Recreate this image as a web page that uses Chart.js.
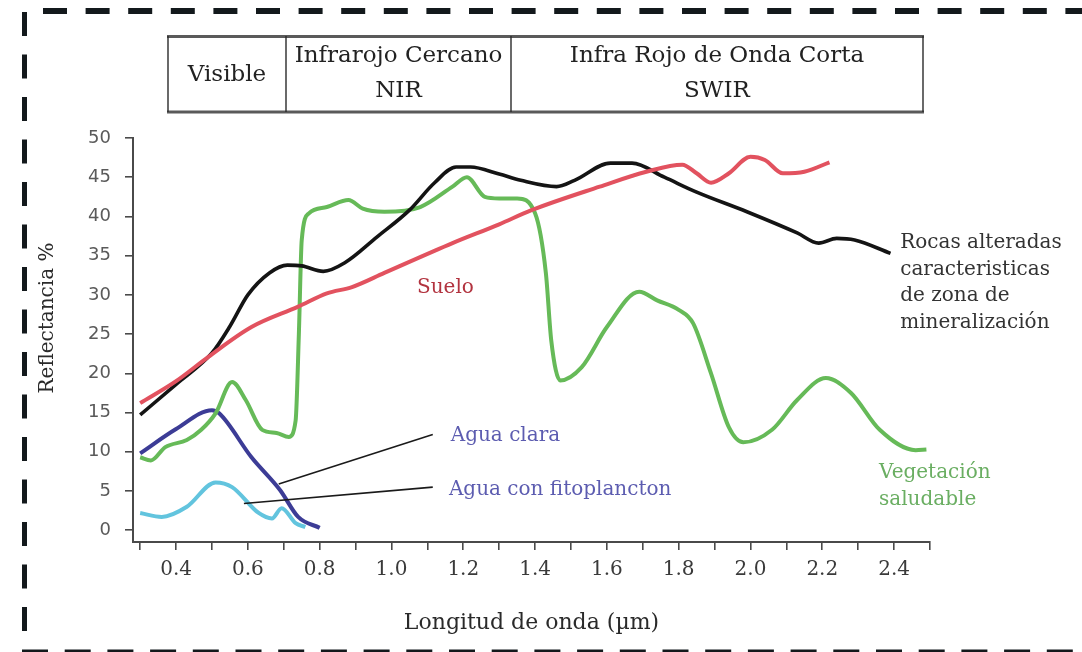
<!DOCTYPE html>
<html>
<head>
<meta charset="utf-8">
<script src="https://cdn.jsdelivr.net/npm/chart.js@4.4.1/dist/chart.umd.min.js"></script>
<style>
    html, body { margin: 0; padding: 0; background: #fff; }
    #grafica { display: block; }
</style>
</head>
<body>
<canvas id="grafica" width="1082" height="652"></canvas>
<script>
// Longitud de onda (µm) y reflectancia (%) de cada curva
const rocasX = [0.30, 0.40, 0.50, 0.55, 0.60, 0.66, 0.71, 0.75, 0.81, 0.87, 0.96, 1.05, 1.12, 1.18, 1.22, 1.30, 1.36, 1.46, 1.51, 1.61, 1.67, 1.76, 1.85, 1.99, 2.13, 2.19, 2.24, 2.29, 2.39];
const rocasY = [14.7, 18.6, 22.6, 26.0, 30.0, 32.8, 33.8, 33.7, 33.0, 34.1, 37.4, 40.8, 44.3, 46.3, 46.3, 45.4, 44.6, 43.8, 44.6, 46.8, 46.8, 45.0, 43.1, 40.6, 37.9, 36.6, 37.2, 37.0, 35.3];

const sueloX = [0.30, 0.40, 0.49, 0.61, 0.74, 0.82, 0.89, 0.98, 1.17, 1.30, 1.39, 1.58, 1.71, 1.81, 1.85, 1.89, 1.94, 2.00, 2.04, 2.09, 2.15, 2.22];
const sueloY = [16.2, 19.0, 22.1, 25.9, 28.5, 30.2, 31.0, 32.8, 36.6, 39.0, 40.8, 43.8, 45.7, 46.6, 45.5, 44.3, 45.5, 47.6, 47.2, 45.5, 45.7, 46.9];

const vegetacionX = [0.30, 0.33, 0.37, 0.43, 0.47, 0.51, 0.556, 0.594, 0.64, 0.68, 0.714, 0.733, 0.742, 0.750, 0.77, 0.82, 0.88, 0.92, 0.98, 1.08, 1.17, 1.21, 1.26, 1.30, 1.35, 1.40, 1.43, 1.445, 1.47, 1.53, 1.60, 1.69, 1.74, 1.80, 1.84, 1.89, 1.94, 1.98, 2.06, 2.13, 2.21, 2.28, 2.36, 2.46, 2.49];
const vegetacionY = [9.3, 8.9, 10.6, 11.5, 12.8, 14.9, 18.9, 16.6, 12.8, 12.4, 11.9, 14.0, 25.0, 37.0, 40.4, 41.2, 42.1, 41.0, 40.6, 41.2, 43.8, 45.0, 42.5, 42.3, 42.3, 40.4, 32.8, 24.2, 19.1, 20.8, 25.9, 30.4, 29.3, 28.1, 26.4, 20.0, 13.1, 11.2, 12.8, 16.6, 19.4, 17.5, 12.8, 10.2, 10.3];

const aguaClaraX = [0.30, 0.40, 0.50, 0.52, 0.61, 0.69, 0.74, 0.80];
const aguaClaraY = [9.8, 12.9, 15.3, 14.9, 9.3, 5.1, 1.7, 0.3];

const fitoplanctonX = [0.30, 0.36, 0.43, 0.51, 0.556, 0.63, 0.667, 0.694, 0.733, 0.76];
const fitoplanctonY = [2.2, 1.7, 3.0, 6.1, 5.5, 2.2, 1.5, 2.8, 0.9, 0.4];

// Líneas guía de las etiquetas de agua
const guiaClaraX = [0.686, 1.115];
const guiaClaraY = [5.9, 12.2];
const guiaFitoX = [0.589, 1.115];
const guiaFitoY = [3.4, 5.5];

// Marcas de los ejes
const xTicks = [0.3, 0.4, 0.5, 0.6, 0.7, 0.8, 0.9, 1.0, 1.1, 1.2, 1.3, 1.4, 1.5, 1.6, 1.7, 1.8, 1.9, 2.0, 2.1, 2.2, 2.3, 2.4, 2.5];
const xTickLabels = ['0.4', '0.6', '0.8', '1.0', '1.2', '1.4', '1.6', '1.8', '2.0', '2.2', '2.4'];
const yTicks = [0, 5, 10, 15, 20, 25, 30, 35, 40, 45, 50];

// Etiquetas de texto (en coordenadas de los datos)
const etiquetas = [
    { texto: ['Suelo'], x: 1.071, y: 30.9, color: '#b2333f' },
    { texto: ['Agua clara'], x: 1.165, y: 12.0, color: '#5c5cb0' },
    { texto: ['Agua con fitoplancton'], x: 1.16, y: 5.2, color: '#5c5cb0' },
    { texto: ['Rocas alteradas', 'caracteristicas', 'de zona de', 'mineralización'], x: 2.417, y: 36.6, color: '#333333' },
    { texto: ['Vegetación', 'saludable'], x: 2.358, y: 7.3, color: '#6aae62' }
];

// Cabecera de regiones espectrales
const regiones = [
    { texto: ['Visible'], desde: 168, hasta: 286 },
    { texto: ['Infrarojo Cercano', 'NIR'], desde: 286, hasta: 511 },
    { texto: ['Infra Rojo de Onda Corta', 'SWIR'], desde: 511, hasta: 923 }
];

const puntos = (xs, ys) => xs.map((v, i) => ({ x: v, y: ys[i] }));

const serie = (xs, ys, color, ancho) => ({
    data: puntos(xs, ys),
    borderColor: color,
    borderWidth: ancho,
    pointRadius: 0,
    fill: false,
    cubicInterpolationMode: 'monotone'
});

const guia = (xs, ys) => ({
    data: puntos(xs, ys),
    borderColor: '#1a1a1a',
    borderWidth: 1.6,
    pointRadius: 0,
    tension: 0
});

const adornos = {
    id: 'adornos',
    beforeDraw(chart) {
        const ctx = chart.ctx;
        ctx.save();
        ctx.fillStyle = '#ffffff';
        ctx.fillRect(0, 0, chart.width, chart.height);
        ctx.restore();
    },
    afterDraw(chart) {
        const ctx = chart.ctx;
        const sx = chart.scales.x;
        const sy = chart.scales.y;
        ctx.save();

        // Marco discontinuo
        ctx.strokeStyle = '#13191c';
        const linea = (x1, y1, x2, y2) => {
            ctx.beginPath();
            ctx.moveTo(x1, y1);
            ctx.lineTo(x2, y2);
            ctx.stroke();
        };
        ctx.lineWidth = 6;
        ctx.setLineDash([24, 18.6]);
        linea(43, 11, 1082, 11);
        ctx.lineWidth = 5;
        ctx.setLineDash([24, 18.5]);
        linea(24.5, 12, 24.5, 640);
        ctx.setLineDash([26, 16.7]);
        linea(22, 652, 1082, 652);
        ctx.setLineDash([]);

        // Tabla de regiones
        ctx.strokeStyle = '#5a5a5a';
        ctx.lineWidth = 3;
        linea(167, 36.5, 924, 36.5);
        linea(167, 112, 924, 112);
        ctx.strokeStyle = '#2a2a2a';
        ctx.lineWidth = 1.4;
        [168, 286, 511, 923].forEach(px => linea(px, 36, px, 112));
        ctx.fillStyle = '#222';
        ctx.font = '23px "DejaVu Serif"';
        ctx.textAlign = 'center';
        ctx.textBaseline = 'middle';
        regiones.forEach(r => {
            const cx = (r.desde + r.hasta) / 2;
            if (r.texto.length === 1) {
                ctx.fillText(r.texto[0], cx, 75);
            } else {
                ctx.fillText(r.texto[0], cx, 56);
                ctx.fillText(r.texto[1], cx, 91);
            }
        });

        // Título del eje vertical
        ctx.save();
        ctx.translate(48, 318);
        ctx.rotate(-Math.PI / 2);
        ctx.fillStyle = '#2a2a2a';
        ctx.font = '20px "DejaVu Serif"';
        ctx.fillText('Reflectancia %', 0, 0);
        ctx.restore();

        // Etiquetas de las curvas
        ctx.font = '20px "DejaVu Serif"';
        ctx.textAlign = 'left';
        etiquetas.forEach(e => {
            ctx.fillStyle = e.color;
            const px = sx.getPixelForValue(e.x);
            const py = sy.getPixelForValue(e.y);
            e.texto.forEach((t, i) => ctx.fillText(t, px, py + i * 26.5));
        });
        ctx.restore();
    }
};

new Chart(document.getElementById('grafica'), {
    type: 'line',
    data: {
        datasets: [
            guia(guiaClaraX, guiaClaraY),
            guia(guiaFitoX, guiaFitoY),
            serie(sueloX, sueloY, '#e2525f', 4),
            serie(rocasX, rocasY, '#141414', 3.6),
            serie(vegetacionX, vegetacionY, '#66ba58', 4),
            serie(aguaClaraX, aguaClaraY, '#3c3c96', 4),
            serie(fitoplanctonX, fitoplanctonY, '#62c4de', 4)
        ]
    },
    options: {
        responsive: false,
        animation: false,
        devicePixelRatio: 1,
        layout: { padding: { left: 0, top: 138, right: 152, bottom: 0 } },
        plugins: {
            legend: { display: false },
            tooltip: { enabled: false }
        },
        scales: {
            x: {
                type: 'linear',
                min: 0.28,
                max: 2.5,
                afterFit: s => { s.height = 110; },
                afterBuildTicks: s => { s.ticks = xTicks.map(v => ({ value: v })); },
                border: { display: true, color: '#4a4a4a', width: 2 },
                grid: { drawOnChartArea: false, drawTicks: true, tickLength: 8, color: '#4a4a4a', lineWidth: 1.6 },
                ticks: {
                    autoSkip: false,
                    maxRotation: 0,
                    padding: 8,
                    color: '#3a3a3a',
                    font: { family: '"DejaVu Serif"', size: 20 },
                    callback: v => {
                        const etiqueta = xTickLabels.find(t => Math.abs(parseFloat(t) - v) < 1e-6);
                        return etiqueta || '';
                    }
                },
                title: {
                    display: true,
                    text: 'Longitud de onda (µm)',
                    color: '#2a2a2a',
                    font: { family: '"DejaVu Serif"', size: 22 },
                    padding: { top: 0, bottom: 16 }
                }
            },
            y: {
                type: 'linear',
                min: -1.5,
                max: 50,
                afterFit: s => { s.width = 133; },
                afterBuildTicks: s => { s.ticks = yTicks.map(v => ({ value: v })); },
                border: { display: true, color: '#4a4a4a', width: 2 },
                grid: { drawOnChartArea: false, drawTicks: true, tickLength: 8, color: '#4a4a4a', lineWidth: 1.6 },
                ticks: {
                    padding: 14,
                    color: '#5a5a5a',
                    font: { family: '"DejaVu Sans"', size: 18 }
                }
            }
        }
    },
    plugins: [adornos]
});
</script>
</body>
</html>
